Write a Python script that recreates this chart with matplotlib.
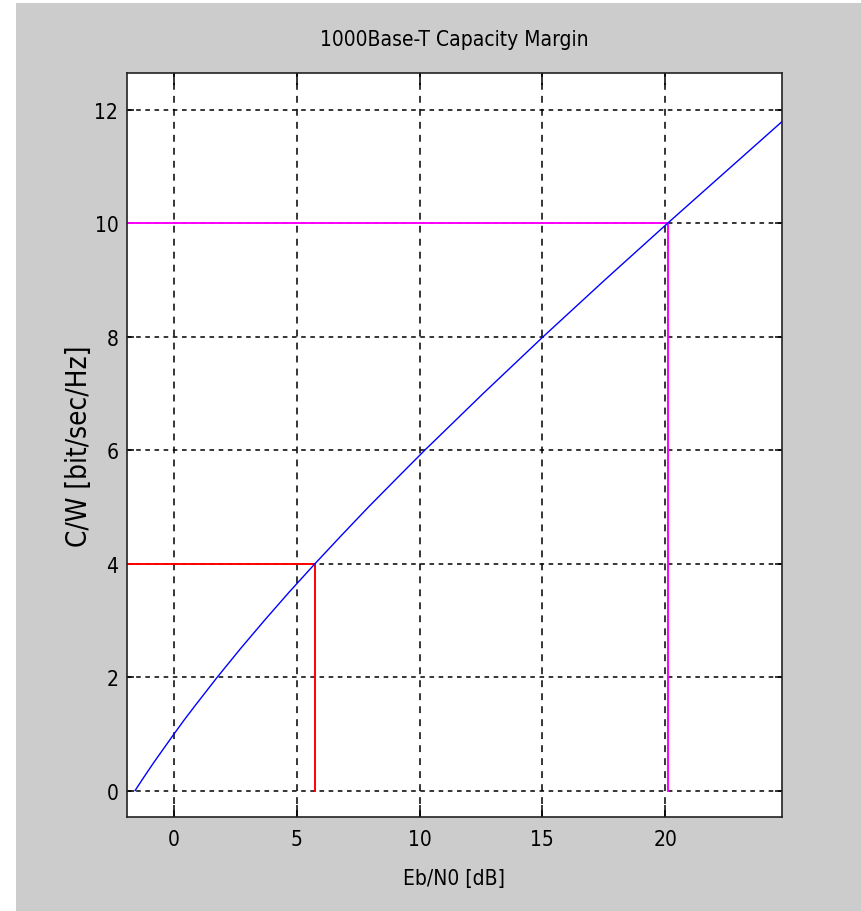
import matplotlib
matplotlib.use("Agg")
import matplotlib.pyplot as plt
from matplotlib.patches import Rectangle

# Capacity curve: Eb/N0 [dB] vs C/W [bit/sec/Hz]
ebn0_db = [-1.59, -1.21, -0.82, -0.41, 0.0, 0.42, 0.86, 1.31, 1.76, 2.70,
           3.68, 4.69, 5.74, 6.82, 7.92, 9.06, 10.21, 12.59, 15.03, 17.54,
           20.10, 22.70, 24.78]
cap_bps_hz = [0.0, 0.25, 0.5, 0.75, 1.0, 1.25, 1.5, 1.75, 2.0, 2.5,
              3.0, 3.5, 4.0, 4.5, 5.0, 5.5, 6.0, 7.0, 8.0, 9.0,
              10.0, 11.0, 11.8]

# operating points marked with the red / magenta guide lines
mark_ebn0 = [5.74, 20.10]
mark_cap = [4.0, 10.0]
mark_colors = ['#ff0000', '#ff00ff']

xticks = [0, 5, 10, 15, 20]
yticks = [0, 2, 4, 6, 8, 10, 12]

plt.rcParams['font.family'] = ['DejaVu Sans']
plt.rcParams['font.stretch'] = 'condensed'
plt.rcParams['font.size'] = 15
plt.rcParams['xtick.labelsize'] = 15
plt.rcParams['ytick.labelsize'] = 15

W, H = 862, 912
fig = plt.figure(figsize=(W / 100, H / 100), dpi=100, facecolor='white')
# grey MATLAB-style figure panel
fig.patches.append(Rectangle((16 / W, 0), 1 - 16 / W, 1 - 4 / H,
                             transform=fig.transFigure, facecolor='#cccccc',
                             edgecolor='none', zorder=-10))

ax = fig.add_axes([126.7 / W, 1 - 817.7 / H, 655 / W, 743.7 / H])
ax.set_facecolor('white')
ax.set_xlim(-1.93, 24.75)
ax.set_ylim(-0.46, 12.65)

ax.plot(ebn0_db, cap_bps_hz, color='#0000ff', lw=1.0, zorder=3)
x0 = ax.get_xlim()[0]
for xe, yc, c in zip(mark_ebn0, mark_cap, mark_colors):
    ax.plot([x0, xe], [yc, yc], color=c, lw=1.4, zorder=2)
    ax.plot([xe, xe], [yc, 0], color=c, lw=1.4, zorder=2)

ax.set_xticks(xticks)
ax.set_yticks(yticks)
ax.xaxis.grid(True, color='black', lw=1.1, linestyle=(0, (4.5, 4)))
ax.yaxis.grid(True, color='black', lw=1.1, linestyle=(0, (3, 3)))
ax.set_axisbelow(True)

ax.tick_params(axis='x', direction='in', length=8.5, width=1.1,
               top=True, bottom=True, pad=9, colors='black')
ax.tick_params(axis='y', direction='in', length=5, width=1.1,
               left=True, right=True, pad=6, colors='black')
for lab in ax.get_xticklabels() + ax.get_yticklabels():
    lab.set_fontstretch('condensed')
    lab.set_fontsize(15)
for s in ax.spines.values():
    s.set_linewidth(1.2)
    s.set_color('#222222')

ax.set_title('1000Base-T Capacity Margin', pad=20, fontsize=15,
             fontstretch='condensed')
ax.set_xlabel('Eb/N0 [dB]', fontsize=15, fontstretch='condensed')
ax.xaxis.set_label_coords(0.5, -0.0824)
ax.xaxis.label.set_va('center')
ax.set_ylabel('C/W [bit/sec/Hz]', fontsize=20, fontstretch='condensed')
ax.yaxis.set_label_coords(-0.0515, 0.5)

fig.savefig('out.png', dpi=100, facecolor=fig.get_facecolor())
